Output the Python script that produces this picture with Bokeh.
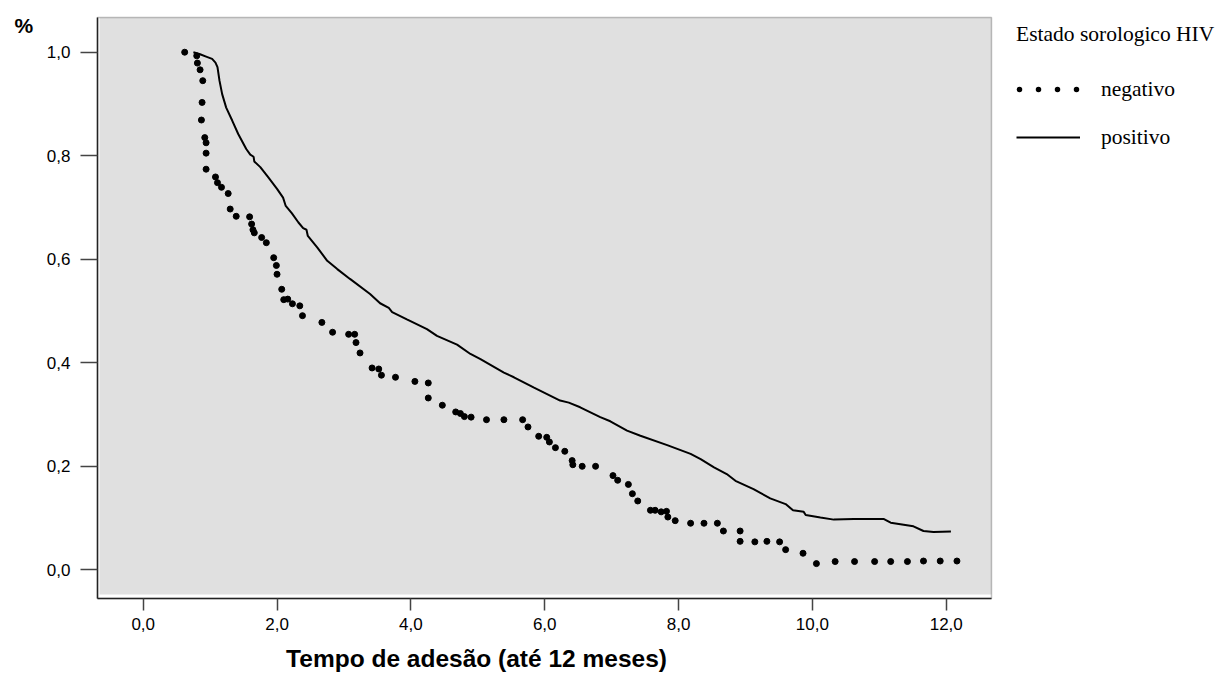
from bokeh.plotting import figure
from bokeh.models import (Range1d, FixedTicker, BoxAnnotation, Label, Legend,
                          LegendItem, ColumnDataSource, LinearAxis)
from bokeh.embed import file_html
from bokeh.resources import INLINE

# ---- data ----
negativo_t = [0.62, 0.80, 0.81, 0.85, 0.89, 0.88, 0.87, 0.92, 0.94, 0.94, 0.94,
              1.08, 1.11, 1.17, 1.27, 1.30, 1.39, 1.59, 1.62, 1.64, 1.66, 1.77,
              1.84, 1.95, 1.99, 2.00, 2.07, 2.10, 2.16, 2.23, 2.34, 2.38, 2.67,
              2.83, 3.07, 3.16, 3.18, 3.24, 3.42, 3.52, 3.56, 3.77, 4.06, 4.26,
              4.26, 4.47, 4.67, 4.74, 4.80, 4.90, 5.13, 5.39, 5.67, 5.75, 5.91,
              6.03, 6.07, 6.16, 6.30, 6.41, 6.42, 6.56, 6.76, 7.02, 7.09, 7.25,
              7.31, 7.39, 7.58, 7.65, 7.74, 7.82, 7.84, 7.95, 8.18, 8.38, 8.58,
              8.67, 8.92, 8.92, 9.14, 9.32, 9.51, 9.60, 9.86, 10.06, 10.34, 10.63,
              10.93, 11.17, 11.42, 11.66, 11.91, 12.16]
negativo_s = [1.000, 0.993, 0.979, 0.966, 0.945, 0.903, 0.869, 0.835, 0.825, 0.805, 0.774,
              0.759, 0.748, 0.739, 0.727, 0.697, 0.683, 0.682, 0.668, 0.657, 0.651, 0.642,
              0.632, 0.603, 0.588, 0.571, 0.542, 0.522, 0.523, 0.514, 0.510, 0.491, 0.478,
              0.459, 0.455, 0.455, 0.439, 0.419, 0.390, 0.388, 0.376, 0.372, 0.364, 0.361,
              0.332, 0.318, 0.305, 0.302, 0.296, 0.295, 0.290, 0.290, 0.290, 0.276, 0.258,
              0.256, 0.247, 0.236, 0.229, 0.211, 0.203, 0.200, 0.200, 0.182, 0.173, 0.165,
              0.147, 0.133, 0.115, 0.115, 0.112, 0.113, 0.102, 0.095, 0.090, 0.090, 0.090,
              0.075, 0.075, 0.055, 0.054, 0.055, 0.054, 0.039, 0.032, 0.012, 0.016, 0.016,
              0.016, 0.016, 0.016, 0.017, 0.017, 0.017]

positivo_t = [0.75, 0.85, 0.95, 1.03, 1.08, 1.11, 1.14, 1.18, 1.24, 1.33, 1.42, 1.54,
              1.60, 1.65, 1.66, 1.75, 1.87, 2.00, 2.09, 2.13, 2.22, 2.32, 2.39, 2.44,
              2.46, 2.60, 2.75, 2.90, 3.09, 3.39, 3.54, 3.67, 3.72, 3.94, 4.24, 4.39,
              4.69, 4.89, 5.04, 5.39, 5.54, 5.84, 6.23, 6.36, 6.53, 6.83, 6.98, 7.23,
              7.43, 7.83, 8.18, 8.33, 8.53, 8.72, 8.85, 9.12, 9.37, 9.60, 9.71, 9.87,
              9.90, 10.12, 10.32, 10.62, 11.07, 11.17, 11.51, 11.66, 11.81, 12.07]
positivo_s = [1.000, 0.996, 0.991, 0.987, 0.980, 0.971, 0.945, 0.919, 0.893, 0.868, 0.842, 0.813,
              0.802, 0.798, 0.789, 0.778, 0.758, 0.736, 0.719, 0.703, 0.689, 0.671, 0.660, 0.657,
              0.645, 0.623, 0.597, 0.581, 0.562, 0.533, 0.515, 0.506, 0.498, 0.484, 0.465, 0.452,
              0.435, 0.417, 0.407, 0.381, 0.372, 0.352, 0.327, 0.323, 0.314, 0.295, 0.287, 0.269,
              0.259, 0.241, 0.224, 0.214, 0.198, 0.185, 0.172, 0.156, 0.138, 0.127, 0.115, 0.112,
              0.106, 0.101, 0.097, 0.098, 0.098, 0.091, 0.084, 0.075, 0.073, 0.074]

x_ticks = [0, 2, 4, 6, 8, 10, 12]
x_tick_labels = ["0,0", "2,0", "4,0", "6,0", "8,0", "10,0", "12,0"]
y_ticks = [0, 0.2, 0.4, 0.6, 0.8, 1]
y_tick_labels = ["0,0", "0,2", "0,4", "0,6", "0,8", "1,0"]

x_title = "Tempo de adesão (até 12 meses)"
y_title = "%"
legend_title = "Estado sorologico HIV"
series_names = ["negativo", "positivo"]

# ---- layout constants (data units of the plotting box) ----
X_VIEW = (-2.1324, 16.0685)    # whole canvas
Y_VIEW = (-0.2003, 1.0999)
X_BOX = (-0.683, 12.676)       # axes / plotting box
Y_BOX = (-0.0554, 1.067)
GRAY_LEFT, GRAY_BOTTOM = -0.652, -0.0477

SANS = "Liberation Sans"
SERIF = "Liberation Serif"

p = figure(width=1218, height=673, output_backend="svg", toolbar_location=None,
           x_range=Range1d(*X_VIEW), y_range=Range1d(*Y_VIEW),
           x_axis_location=None, y_axis_location=None, min_border=0)
p.background_fill_color = "white"
p.border_fill_color = "white"
p.outline_line_color = None
p.grid.visible = False

# gray plotting area and its frame
p.add_layout(BoxAnnotation(left=GRAY_LEFT, right=X_BOX[1], bottom=GRAY_BOTTOM, top=Y_BOX[1],
                           fill_color="#e0e0e0", fill_alpha=1.0,
                           line_color=None, level="underlay"))
p.add_layout(BoxAnnotation(left=X_BOX[0], right=X_BOX[1], bottom=Y_BOX[0], top=Y_BOX[1],
                           fill_alpha=0, line_color="#333333", line_width=1.5,
                           level="underlay"))

# axes
xaxis = LinearAxis(fixed_location=Y_BOX[0], bounds=X_BOX,
                   ticker=FixedTicker(ticks=x_ticks))
yaxis = LinearAxis(fixed_location=X_BOX[0], bounds=Y_BOX,
                   ticker=FixedTicker(ticks=y_ticks))
xaxis.major_label_overrides = dict(zip(x_ticks, x_tick_labels))
yaxis.major_label_overrides = dict(zip(y_ticks, y_tick_labels))
for ax in (xaxis, yaxis):
    ax.axis_line_color = "#222222"
    ax.axis_line_width = 1.5
    ax.major_tick_line_color = "#444444"
    ax.major_tick_line_width = 1.5
    ax.major_tick_in = 0
    ax.minor_tick_line_color = None
    ax.major_label_text_font = SANS
    ax.major_label_text_font_size = "17px"
    ax.major_label_text_color = "black"
xaxis.major_tick_out = 12
xaxis.major_label_standoff = 8
yaxis.major_tick_out = 17
yaxis.major_label_standoff = 10
p.add_layout(xaxis, "below")
p.add_layout(yaxis, "left")

# series
neg_src = ColumnDataSource(dict(t=negativo_t, s=negativo_s))
pos_src = ColumnDataSource(dict(t=positivo_t, s=positivo_s))
r_neg = p.scatter("t", "s", source=neg_src, size=6, color="black")
r_pos = p.line("t", "s", source=pos_src, line_width=2, line_color="black")

# legend-only dotted glyph (no visible data)
r_neg_leg = p.line(x=[float("nan")], y=[float("nan")], line_width=5.5, line_color="black",
                   line_dash="0 19", line_dash_offset=16, line_cap="round")

legend = Legend(items=[LegendItem(label=series_names[0], renderers=[r_neg_leg]),
                       LegendItem(label=series_names[1], renderers=[r_pos])],
                title=legend_title, location=(1016, 523))
legend.title_text_font = SERIF
legend.title_text_font_size = "21.5px"
legend.title_text_font_style = "normal"
legend.title_text_color = "black"
legend.title_standoff = 29
legend.label_text_font = SERIF
legend.label_text_font_size = "21.5px"
legend.label_text_color = "black"
legend.glyph_width = 64
legend.glyph_height = 26
legend.spacing = 22
legend.label_standoff = 21
legend.padding = 0
legend.margin = 0
legend.border_line_color = None
legend.background_fill_alpha = 0
p.add_layout(legend, "center")

# titles
p.add_layout(Label(x=-1.923, y=1.0516, text=y_title, text_font=SANS,
                   text_font_size="21px", text_font_style="bold", text_color="black",
                   text_baseline="alphabetic", text_align="left"))
p.add_layout(Label(x=4.981, y=-0.1713, text=x_title, text_font=SANS,
                   text_font_size="24.5px", text_font_style="bold", text_color="black",
                   text_baseline="alphabetic", text_align="center"))

open("out.html", "w").write(file_html(p, INLINE))
